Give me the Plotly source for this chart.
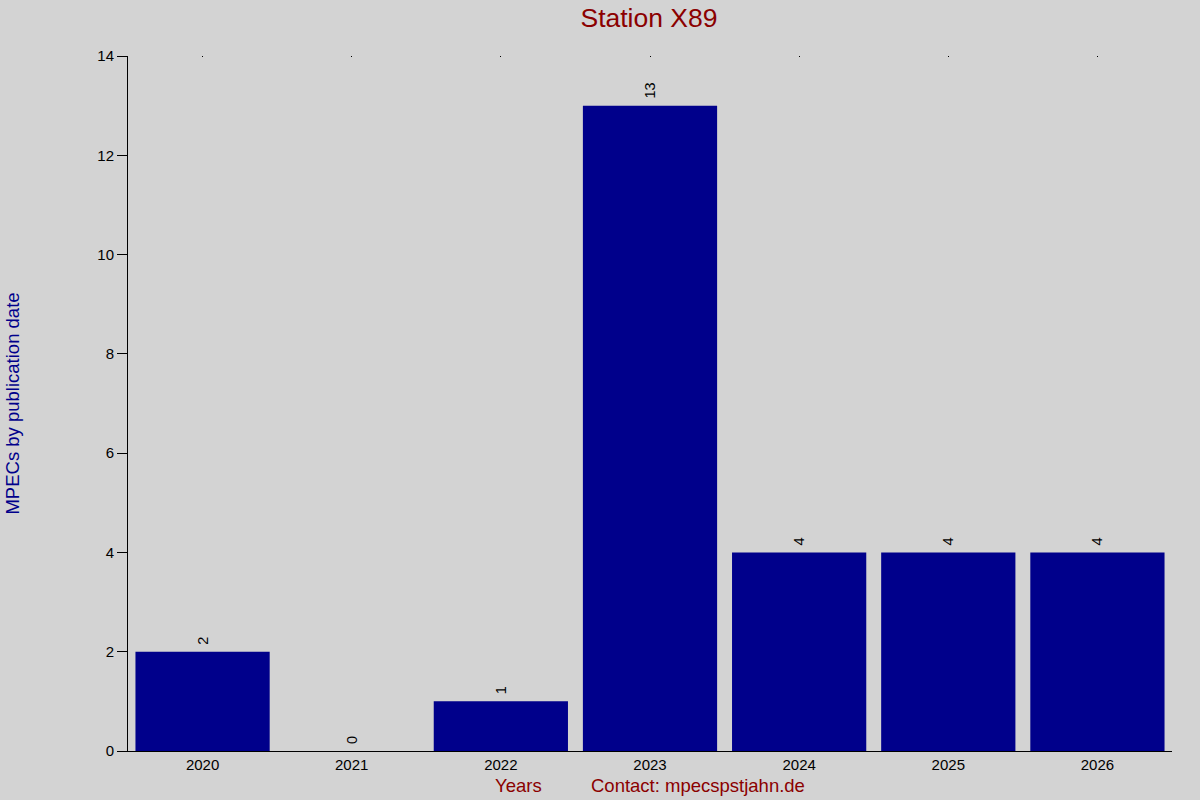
import plotly.graph_objects as go

years = ["2020", "2021", "2022", "2023", "2024", "2025", "2026"]
counts = [2, 0, 1, 13, 4, 4, 4]
yticks = [0, 2, 4, 6, 8, 10, 12, 14]

L, R, T, B = 126, 28, 56, 49
W, H = 1200, 800
pw, ph = W - L - R, H - T - B

fig = go.Figure()
fig.add_trace(go.Bar(
    x=years, y=counts, width=0.9,
    marker=dict(color="#00008B", line=dict(width=0)),
    text=["\u00a0" + str(c) for c in counts], textposition="outside", textangle=-90,
    textfont=dict(family="Liberation Sans", size=14.5, color="black"),
    cliponaxis=False, showlegend=False,
))
fig.add_trace(go.Scatter(x=years, y=counts, xaxis="x2", mode="markers",
                         marker=dict(opacity=0), showlegend=False, hoverinfo="skip"))

fig.update_layout(
    width=W, height=H,
    paper_bgcolor="#D3D3D3", plot_bgcolor="#D3D3D3",
    margin=dict(l=L, r=R, t=T, b=B),
    font=dict(family="Liberation Sans", size=15, color="black"),
    title=dict(text="Station X89", x=649 / W, xanchor="center",
               y=1 - 18 / H, yanchor="middle",
               font=dict(size=26.5, color="#8B0000")),
    bargap=0.1,
    xaxis=dict(type="category", showline=True, linecolor="black", linewidth=1,
               ticks="", showgrid=False, tickfont=dict(size=15),
               range=[-0.5, 6.5], title=None),
    xaxis2=dict(type="category", overlaying="x", side="top", matches="x",
                showline=False, ticks="inside", ticklen=1, tickwidth=1, tickcolor="black",
                showticklabels=False, showgrid=False),
    yaxis=dict(range=[0, 14], tickvals=yticks, showline=True, linecolor="black",
               linewidth=1, ticks="outside", ticklen=10, tickcolor="black",
               showgrid=False, zeroline=False, tickfont=dict(size=15),
               title=dict(text="MPECs by publication date", font=dict(size=18.5, color="#00008B"),
                          standoff=72)),
    annotations=[
        dict(text="Years", x=(517 - L) / pw, y=(751 - 786) / ph, xref="paper", yref="paper",
             showarrow=False, xanchor="center", yanchor="middle",
             font=dict(size=18.5, color="#8B0000")),
        dict(text="Contact: mpecspstjahn.de", x=(697 - L) / pw, y=(751 - 786) / ph,
             xref="paper", yref="paper", showarrow=False, xanchor="center", yanchor="middle",
             font=dict(size=18.5, color="#8B0000")),
    ],
)
fig.write_html("out.html", config={"displayModeBar": False},
               post_script="document.body.style.margin='0';")
